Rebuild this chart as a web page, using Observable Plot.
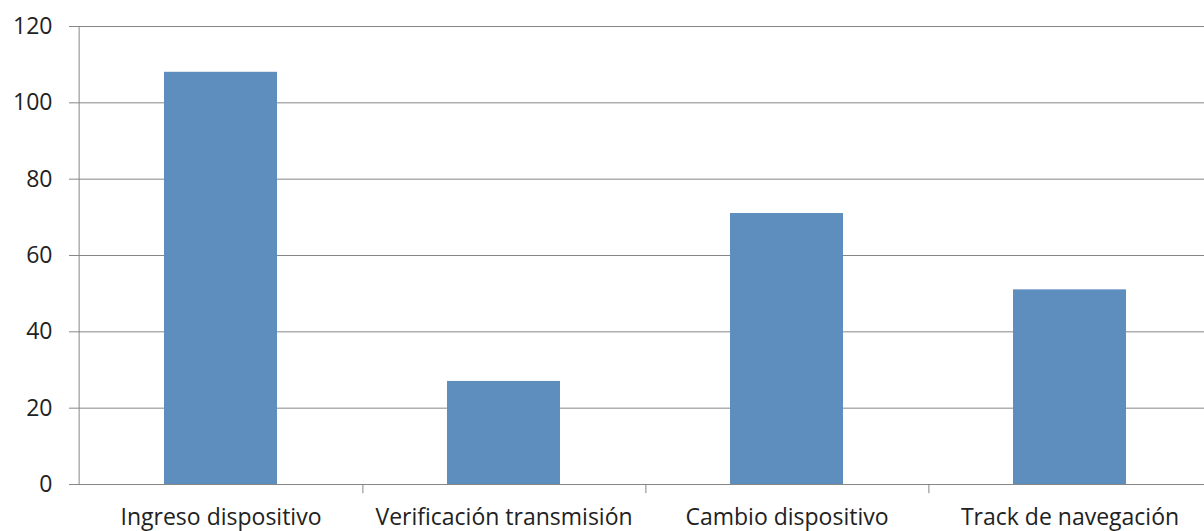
<!DOCTYPE html>
<html>
<head>
<meta charset="utf-8">
<script src="https://cdn.jsdelivr.net/npm/d3@7"></script>
<script src="https://cdn.jsdelivr.net/npm/@observablehq/plot@0.6"></script>
<style>
  html, body { margin: 0; padding: 0; background: #fff; }
  svg { display: block; }
</style>
</head>
<body>
<div id="chart"></div>
<script>
const categories = ["Ingreso dispositivo", "Verificación transmisión", "Cambio dispositivo", "Track de navegación"];
const values = [108, 27, 71, 51];
const yTicks = [0, 20, 40, 60, 80, 100, 120];

const data = categories.map((c, i) => ({category: c, value: values[i]}));

const W = 1204, H = 531;
const xRange = [78, 1213];
const step = (xRange[1] - xRange[0]) / categories.length;
const gridColor = "#868686";
const textColor = "#222222";

const chart = Plot.plot({
  width: W,
  height: H,
  marginLeft: 69,
  marginRight: 0,
  marginTop: 26,
  marginBottom: 47,
  style: {fontFamily: "'Open Sans', sans-serif", fontSize: "23px", color: textColor, background: "#fff"},
  x: {domain: categories, range: xRange, paddingInner: 0.6, paddingOuter: 0.3, label: null},
  y: {domain: [0, 120], range: [484, 26], label: null},
  marks: [
    Plot.ruleY(yTicks, {stroke: gridColor, strokeWidth: 1}),
    Plot.barY(data, {x: "category", y: "value", fill: "#5e8ebd"}),
    // y axis line at the left edge of the first band
    Plot.ruleX([categories[0]], {y1: 0, y2: 120, dx: -step / 2, stroke: gridColor}),
    // category separator ticks below the axis
    Plot.ruleX(categories.slice(0, -1), {y1: 0, y2: -2.4, dx: step / 2, stroke: gridColor}),
    Plot.axisY({ticks: yTicks, tickSize: 0, tickPadding: 17, label: null, fill: textColor, fontSize: 23}),
    Plot.axisX({tickSize: 0, tickPadding: 24, label: null, fill: textColor, fontSize: 23})
  ]
});
document.getElementById("chart").appendChild(chart);
</script>
</body>
</html>
